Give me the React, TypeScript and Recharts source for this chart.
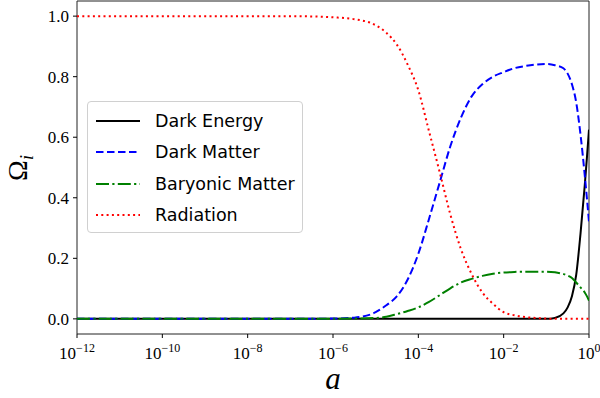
import { LineChart, Line, XAxis, YAxis, ReferenceArea } from 'recharts'

// log10(a) sample points
const logA = [
  -12, -11, -10, -9, -8, -7, -6.5, -6, -5.5, -5, -4.75, -4.5, -4.25, -4, -3.75, -3.5, -3.25, -3,
  -2.75, -2.5, -2.25, -2, -1.75, -1.5, -1.25, -1, -0.8, -0.6, -0.5, -0.4, -0.3, -0.2, -0.1, -0.05, 0,
]

const darkEnergy = [
  0, 0, 0, 0, 0, 0, 0, 0, 0, 0, 0, 0, 0, 0, 0, 0, 0, 0,
  0, 0, 0, 0, 0, 0, 0, 0, 0.003, 0.018, 0.038, 0.075, 0.145, 0.28, 0.44, 0.53, 0.625,
]

const darkMatter = [
  0, 0, 0, 0, 0, 0, 0.0005, 0.001, 0.004, 0.022, 0.045, 0.075, 0.13, 0.215, 0.33, 0.45, 0.57, 0.665,
  0.735, 0.775, 0.8, 0.815, 0.828, 0.835, 0.84, 0.842, 0.838, 0.828, 0.81, 0.775, 0.715, 0.61, 0.475, 0.4, 0.32,
]

const baryonic = [
  0, 0, 0, 0, 0, 0, 0, 0, 0.001, 0.003, 0.007, 0.016, 0.026, 0.038, 0.056, 0.078, 0.101, 0.12,
  0.132, 0.142, 0.149, 0.153, 0.155, 0.156, 0.156, 0.156, 0.154, 0.148, 0.143, 0.135, 0.12, 0.104, 0.087, 0.075, 0.06,
]

const radiation = [
  1, 1, 1, 1, 1, 1, 0.999, 0.996, 0.99, 0.97, 0.945, 0.905, 0.84, 0.755, 0.62, 0.485, 0.345, 0.23,
  0.148, 0.087, 0.05, 0.022, 0.012, 0.006, 0.003, 0.001, 0, 0, 0, 0, 0, 0, 0, 0, 0,
]

const xTicks = [-12, -10, -8, -6, -4, -2, 0]
const yTicks = [0, 0.2, 0.4, 0.6, 0.8, 1.0]

const series = [
  { key: 'de', name: 'Dark Energy', color: '#000000', dash: undefined as string | undefined },
  { key: 'dm', name: 'Dark Matter', color: '#0000ff', dash: '7.5 3.5' },
  { key: 'bm', name: 'Baryonic Matter', color: '#008000', dash: '13 3.3 2.2 3.3' },
  { key: 'rad', name: 'Radiation', color: '#ff0000', dash: '2 3.3' },
]

const data = logA.map((l, i) => ({
  l,
  de: darkEnergy[i],
  dm: darkMatter[i],
  bm: baryonic[i],
  rad: radiation[i],
}))

const serif = "'Liberation Serif', 'DejaVu Serif', serif"

function PowerTick({ x, y, payload }: any) {
  const exp = payload.value
  return (
    <g>
      <text x={x} y={y + 19} textAnchor="middle" fontFamily={serif} fontSize={17} fill="#000">
        10
        <tspan dy={-7} fontSize={12}>
          {exp === 0 ? '0' : `\u2212${Math.abs(exp)}`}
        </tspan>
      </text>
    </g>
  )
}

function LegendBox() {
  return (
    <div
      style={{
        position: 'absolute',
        left: 87,
        top: 101,
        width: 216,
        height: 132,
        boxSizing: 'border-box',
        border: '1px solid #d0d0d0',
        borderRadius: 4,
        background: 'rgba(255,255,255,0.8)',
        padding: '3px 0 0 7px',
        fontFamily: "'DejaVu Sans', sans-serif",
        fontSize: 17.5,
        color: '#000',
      }}
    >
      {series.map((s) => (
        <div key={s.key} style={{ display: 'flex', alignItems: 'center', height: 31.5 }}>
          <svg width={46} height={10} style={{ marginRight: 14 }}>
            <line
              x1={1}
              y1={5}
              x2={45}
              y2={5}
              stroke={s.color}
              strokeWidth={2}
              strokeDasharray={s.dash}
            />
          </svg>
          <span>{s.name}</span>
        </div>
      ))}
    </div>
  )
}

export default function App() {
  return (
    <div style={{ position: 'absolute', left: 0, top: 0, width: 600, height: 398, background: '#fff' }}>
      <LineChart width={600} height={398} data={data} margin={{ top: 1, right: 11, bottom: 0, left: 0 }}>
        <XAxis
          dataKey="l"
          type="number"
          domain={[-12, 0]}
          ticks={xTicks}
          tick={<PowerTick />}
          tickSize={4}
          height={64}
          axisLine={false}
          tickLine={{ stroke: '#000' }}
          allowDataOverflow
        />
        <YAxis
          type="number"
          domain={[-0.05, 1.05]}
          ticks={yTicks}
          tickFormatter={(v: number) => v.toFixed(1)}
          tickSize={4}
          tickMargin={4}
          width={77}
          axisLine={false}
          tickLine={{ stroke: '#000' }}
          tick={{ fontFamily: serif, fontSize: 17, fill: '#000' }}
          allowDataOverflow
        />
        {series.map((s) => (
          <Line
            key={s.key}
            dataKey={s.key}
            type="monotone"
            stroke={s.color}
            strokeWidth={2}
            strokeDasharray={s.dash}
            dot={false}
            activeDot={false}
            isAnimationActive={false}
          />
        ))}
        <ReferenceArea x1={-12} x2={0} y1={-0.05} y2={1.05} fill="none" stroke="#222" strokeWidth={1} ifOverflow="visible" />
      </LineChart>
      <LegendBox />
      <svg width={600} height={398} style={{ position: 'absolute', left: 0, top: 0, pointerEvents: 'none' }}>
        <text x={333} y={389} textAnchor="middle" fontFamily={serif} fontStyle="italic" fontSize={31}>
          a
        </text>
        <text
          transform="translate(27, 168) rotate(-90)"
          textAnchor="middle"
          fontFamily={serif}
          fontSize={28}
        >
          Ω
          <tspan fontStyle="italic" fontSize={18} dy={6}>
            i
          </tspan>
        </text>
      </svg>
    </div>
  )
}
